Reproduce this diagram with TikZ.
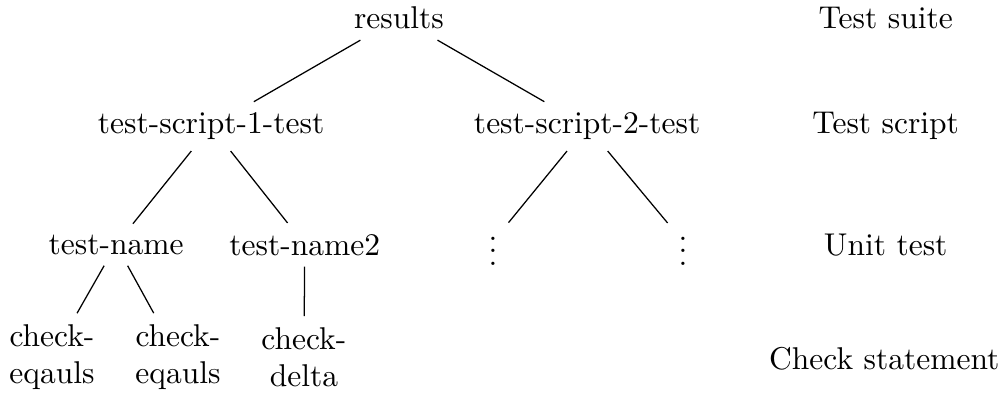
\documentclass[tikz,border=0pt]{standalone}

\begin{document}
\begin{tikzpicture}[
    every node/.style={align=center},
    levelname/.style={anchor=center}
]
\useasboundingbox (0,0) rectangle (11.2,-4.4);

% === Test suite ===
\node (results) at (4.45,-0.2) {results};

% === Test scripts ===
\node (script1) at (2.355,-1.41) {test-script-1-test};
\node (script2) at (6.55,-1.41) {test-script-2-test};

% === Unit tests ===
\node (name1) at (1.295,-2.73) {test-name};
\node (name2) at (3.40,-2.73) {test-name2};
\node (more1) at (5.50,-2.695) {$\vdots$};
\node (more2) at (7.62,-2.695) {$\vdots$};

% === Check statements ===
\node (check1) at (0.58,-3.985) {check-\\eqauls};
\node (check2) at (1.985,-3.985) {check-\\eqauls};
\node (check3) at (3.39,-3.985) {check-\\delta};

% branches
\draw (results) -- (script1);
\draw (results) -- (script2);
\draw (script1) -- (name1);
\draw (script1) -- (name2);
\draw (script2) -- (more1);
\draw (script2) -- (more2);
\draw (name1) -- (check1);
\draw (name1) -- (check2);
\draw (name2) -- (check3);

% level names
\node[levelname] (suite) at (9.88,-0.2) {Test suite};
\node[levelname] (script) at (9.88,-1.41) {Test script};
\node[levelname] (unit) at (9.88,-2.73) {Unit test};
\node[levelname] (check) at (9.865,-4.0) {Check statement};

\end{tikzpicture}
\end{document}
